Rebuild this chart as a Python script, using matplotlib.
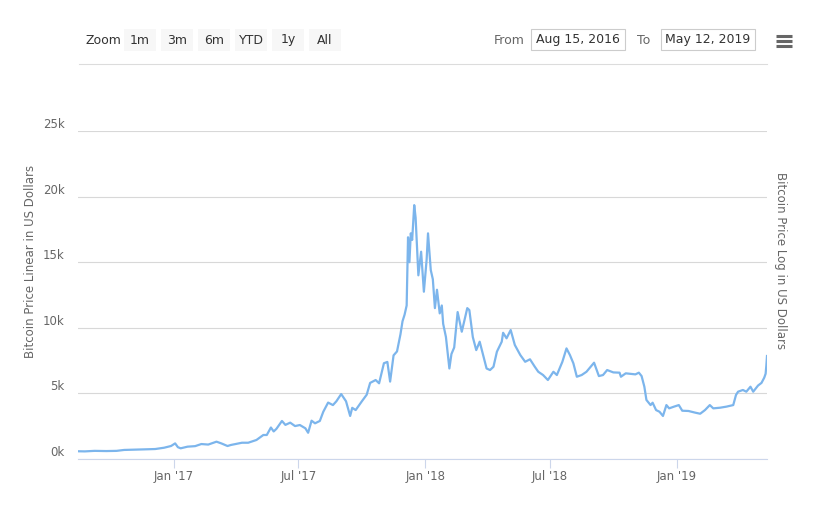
import matplotlib
matplotlib.use("Agg")
import matplotlib.pyplot as plt
from matplotlib.patches import Rectangle
import pandas as pd

# ---- data ----
dates = [
    "2016-08-15", "2016-08-25", "2016-09-08", "2016-09-25", "2016-10-10", "2016-10-21",
    "2016-11-05", "2016-11-23", "2016-12-05", "2016-12-18", "2016-12-28", "2017-01-03",
    "2017-01-07", "2017-01-11", "2017-01-21", "2017-02-01", "2017-02-10", "2017-02-20",
    "2017-03-04", "2017-03-11", "2017-03-20", "2017-03-25", "2017-04-10", "2017-04-19",
    "2017-05-01", "2017-05-11", "2017-05-16", "2017-05-22", "2017-05-26", "2017-05-30",
    "2017-06-07", "2017-06-12", "2017-06-19", "2017-06-26", "2017-07-03", "2017-07-11",
    "2017-07-15", "2017-07-20", "2017-07-25", "2017-08-01", "2017-08-06", "2017-08-13",
    "2017-08-20", "2017-08-25", "2017-09-01", "2017-09-08", "2017-09-14", "2017-09-17",
    "2017-09-22", "2017-10-01", "2017-10-08", "2017-10-13", "2017-10-21", "2017-10-26",
    "2017-11-02", "2017-11-07", "2017-11-11", "2017-11-16", "2017-11-21", "2017-11-26",
    "2017-11-29", "2017-12-02", "2017-12-05", "2017-12-07", "2017-12-09", "2017-12-11",
    "2017-12-13", "2017-12-16", "2017-12-18", "2017-12-22", "2017-12-26", "2017-12-30",
    "2018-01-03", "2018-01-05", "2018-01-09", "2018-01-12", "2018-01-15", "2018-01-18",
    "2018-01-22", "2018-01-25", "2018-01-27", "2018-01-31", "2018-02-05", "2018-02-08",
    "2018-02-12", "2018-02-17", "2018-02-23", "2018-03-03", "2018-03-06", "2018-03-11",
    "2018-03-16", "2018-03-21", "2018-03-31", "2018-04-05", "2018-04-10", "2018-04-15",
    "2018-04-22", "2018-04-24", "2018-04-29", "2018-05-05", "2018-05-11", "2018-05-19",
    "2018-05-26", "2018-06-02", "2018-06-09", "2018-06-14", "2018-06-21", "2018-06-28",
    "2018-07-06", "2018-07-11", "2018-07-19", "2018-07-25", "2018-07-30", "2018-08-04",
    "2018-08-09", "2018-08-16", "2018-08-23", "2018-09-03", "2018-09-10", "2018-09-16",
    "2018-09-22", "2018-10-01", "2018-10-10", "2018-10-12", "2018-10-19", "2018-11-02",
    "2018-11-07", "2018-11-11", "2018-11-15", "2018-11-18", "2018-11-22", "2018-11-24",
    "2018-11-27", "2018-12-02", "2018-12-07", "2018-12-12", "2018-12-17", "2018-12-21",
    "2018-12-28", "2019-01-04", "2019-01-09", "2019-01-18", "2019-01-28", "2019-02-04",
    "2019-02-11", "2019-02-18", "2019-02-23", "2019-03-05", "2019-03-14", "2019-03-24",
    "2019-03-28", "2019-03-31", "2019-04-07", "2019-04-12", "2019-04-18", "2019-04-22",
    "2019-04-29", "2019-05-04", "2019-05-08", "2019-05-10", "2019-05-11", "2019-05-12",
]
prices = [
    590, 580, 620, 605, 620, 690,
    710, 740, 760, 860, 990, 1190,
    900, 815, 940, 980, 1140, 1100,
    1320, 1190, 990, 1070, 1240, 1240,
    1450, 1830, 1830, 2400, 2100, 2300,
    2900, 2600, 2770, 2510, 2590, 2340,
    2000, 2920, 2720, 2900, 3600, 4300,
    4110, 4400, 4950, 4400, 3280, 3900,
    3730, 4400, 4900, 5800, 6020, 5770,
    7300, 7400, 5900, 7900, 8200, 9500,
    10500, 11000, 11700, 16900, 15000, 17200,
    16700, 19350, 18400, 14000, 15800, 12750,
    15200, 17200, 14400, 13700, 11500, 12900,
    11100, 11700, 10300, 9300, 6900, 8000,
    8500, 11200, 9700, 11500, 11350, 9300,
    8300, 8940, 6900, 6780, 7030, 8180,
    8940, 9620, 9200, 9830, 8690, 7920,
    7410, 7600, 7030, 6650, 6400, 6020,
    6650, 6400, 7410, 8430, 7920, 7290,
    6270, 6400, 6650, 7340, 6320, 6400,
    6780, 6600, 6580, 6270, 6530, 6450,
    6580, 6320, 5510, 4500, 4240, 4110,
    4290, 3730, 3600, 3280, 4110, 3860,
    3990, 4110, 3680, 3660, 3530, 3450,
    3730, 4110, 3860, 3910, 3990, 4110,
    4880, 5130, 5260, 5130, 5510, 5130,
    5600, 5800, 6200, 6500, 7100, 7850,
]
y_ticks = [0, 5000, 10000, 15000, 20000, 25000]
y_labels = ["0k", "5k", "10k", "15k", "20k", "25k"]
x_ticks = ["2017-01-01", "2017-07-01", "2018-01-01", "2018-07-01", "2019-01-01"]
x_labels = ["Jan '17", "Jul '17", "Jan '18", "Jul '18", "Jan '19"]
zoom_buttons = ["1m", "3m", "6m", "YTD", "1y", "All"]
from_date = "Aug 15, 2016"
to_date = "May 12, 2019"

W, H = 815, 509
FONT = ["Liberation Sans Narrow", "DejaVu Sans"]
plt.rcParams["font.family"] = FONT

fig = plt.figure(figsize=(W / 100, H / 100), dpi=100)
fig.patch.set_facecolor("white")

def fx(x):
    return x / W

def fy(y):
    return 1 - y / H

# plot area: x 78..767, y 131 (25k) .. 459 (0)
left, right, top, bottom = 78, 767, 131, 459
ax = fig.add_axes([fx(left), fy(bottom), fx(right - left), (bottom - top) / H])
d = pd.to_datetime(dates)
ax.plot(d, prices, color="#7cb5ec", lw=1.6, solid_joinstyle="round")
ax.set_xlim(pd.Timestamp("2016-08-15"), pd.Timestamp("2019-05-12"))
ax.set_ylim(0, 25000)
ax.set_yticks(y_ticks)
ax.set_yticklabels(y_labels)
ax.set_xticks(pd.to_datetime(x_ticks))
ax.set_xticklabels(x_labels)
ax.grid(axis="y", color="#d8d8d8", lw=0.8)
ax.set_axisbelow(True)
for s in ["top", "right", "left"]:
    ax.spines[s].set_visible(False)
ax.spines["bottom"].set_color("#ccd6eb")
ax.spines["bottom"].set_linewidth(0.8)
ax.tick_params(axis="y", length=0, pad=9.5, labelsize=8.5, labelcolor="#666666")
ax.tick_params(axis="x", length=6.5, width=0.8, color="#ccd6eb", pad=1.5,
               labelsize=8.5, labelcolor="#666666")
for lbl in ax.get_yticklabels():
    lbl.set_verticalalignment("bottom")

# axis titles
fig.text(fx(30), fy(261), "Bitcoin Price Linear in US Dollars", rotation=90,
         ha="center", va="center", fontsize=8.5, color="#666666")
fig.text(fx(781), fy(261), "Bitcoin Price Log in US Dollars", rotation=-90,
         ha="center", va="center", fontsize=8.5, color="#666666")

# range selector
fig.text(fx(86), fy(40), "Zoom", ha="left", va="center", fontsize=9, color="#333333")
btn_x = [124, 161, 198, 235, 272, 309]
for bx, lab in zip(btn_x, zoom_buttons):
    fig.add_artist(Rectangle((fx(bx), fy(51)), fx(32), (51 - 29) / H,
                             transform=fig.transFigure, facecolor="#f7f7f7",
                             edgecolor="none"))
    fig.text(fx(bx + 16), fy(40), lab, ha="center", va="center", fontsize=9,
             color="#333333")

fig.text(fx(494), fy(40), "From", ha="left", va="center", fontsize=9, color="#666666")
fig.text(fx(637), fy(40), "To", ha="left", va="center", fontsize=9, color="#666666")
for bx, bw, lab in [(531, 94, from_date), (661, 94, to_date)]:
    fig.add_artist(Rectangle((fx(bx), fy(50)), fx(bw), (50 - 29) / H,
                             transform=fig.transFigure, facecolor="white",
                             edgecolor="#cccccc", lw=0.8))
    fig.text(fx(bx + bw / 2), fy(40), lab, ha="center", va="center", fontsize=9,
             color="#333333")

# separator line under selector
fig.add_artist(plt.Line2D([fx(79), fx(767)], [fy(63.5), fy(63.5)],
                          transform=fig.transFigure, color="#dcdcdc", lw=0.8))

# hamburger menu
for hy in [35.5, 40.5, 45.5]:
    fig.add_artist(plt.Line2D([fx(776), fx(792)], [fy(hy), fy(hy)],
                              transform=fig.transFigure, color="#666666", lw=2.2,
                              solid_capstyle="butt"))

fig.savefig("out.png", dpi=100)
